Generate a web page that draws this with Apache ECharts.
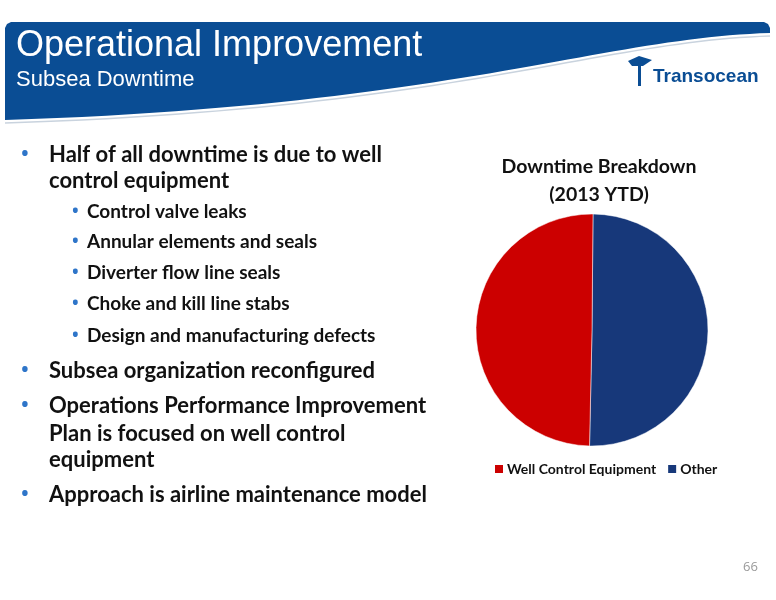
<!DOCTYPE html>
<html>
<head>
<meta charset="utf-8">
<script src="https://cdn.jsdelivr.net/npm/echarts@6/dist/echarts.min.js"></script>
<style>html,body{margin:0;padding:0;background:#fff}#chart{width:776px;height:600px}</style>
</head>
<body>
<div id="chart"></div>
<script>
var categories = ['Other', 'Well Control Equipment'];
var values = [50.2, 49.8];
var colors = ['#17387a', '#cc0000'];
var legendOrder = ['Well Control Equipment', 'Other'];

var bullets = [
  { text: 'Half of all downtime is due to well', level: 0, y: 158, dot: true },
  { text: 'control equipment', level: 0, y: 184 },
  { text: 'Control valve leaks', level: 1, y: 215, dot: true },
  { text: 'Annular elements and seals', level: 1, y: 245, dot: true },
  { text: 'Diverter flow line seals', level: 1, y: 276, dot: true },
  { text: 'Choke and kill line stabs', level: 1, y: 307, dot: true },
  { text: 'Design and manufacturing defects', level: 1, y: 339, dot: true },
  { text: 'Subsea organization reconfigured', level: 0, y: 374, dot: true },
  { text: 'Operations Performance Improvement', level: 0, y: 409, dot: true },
  { text: 'Plan is focused on well control', level: 0, y: 437 },
  { text: 'equipment', level: 0, y: 463 },
  { text: 'Approach is airline maintenance model', level: 0, y: 498, dot: true }
];

// header band bottom edge, sampled from a cubic curve
function curve(p0, p1, p2, p3, n) {
  var pts = [];
  for (var i = 0; i <= n; i++) {
    var t = i / n, u = 1 - t;
    pts.push([
      u*u*u*p0[0] + 3*u*u*t*p1[0] + 3*u*t*t*p2[0] + t*t*t*p3[0],
      u*u*u*p0[1] + 3*u*u*t*p1[1] + 3*u*t*t*p2[1] + t*t*t*p3[1]
    ]);
  }
  return pts;
}
var edge = curve([770, 33], [600, 38], [450, 106], [5, 120], 50);
var bandPts = [[5, 28], [7, 24], [11, 22], [764, 22], [768, 24], [770, 28]].concat(edge);
var linePts = curve([770, 36], [600, 41], [450, 109], [5, 123], 50);

var graphics = [
  { type: 'polygon', shape: { points: bandPts }, style: { fill: '#0a4d94' } },
  { type: 'polyline', shape: { points: linePts }, style: { stroke: '#c9d3de', lineWidth: 1.5, fill: null } },
  { type: 'text', left: 16, top: 28, style: { text: 'Operational Improvement', fill: '#fff', font: '36px "Liberation Sans", Arial, sans-serif' } },
  { type: 'text', left: 16, top: 69, style: { text: 'Subsea Downtime', fill: '#fff', font: '22px "Liberation Sans", Arial, sans-serif' } },
  { type: 'polygon', shape: { points: [[628, 61], [639, 56], [652, 60], [643, 66], [632, 66]] }, style: { fill: '#0a4d94' } },
  { type: 'rect', shape: { x: 638, y: 60, width: 3, height: 26 }, style: { fill: '#0a4d94' } },
  { type: 'text', left: 653, top: 67, style: { text: 'Transocean', fill: '#0a4d94', font: 'bold 19px "Liberation Sans Narrow", "Liberation Sans", sans-serif' } },
  { type: 'text', left: 743, top: 561, style: { text: '66', fill: '#9a9a9a', font: '13px "Open Sans", sans-serif' } }
];
bullets.forEach(function (b) {
  var x = b.level === 0 ? 49 : 87;
  var size = b.level === 0 ? 22 : 19;
  if (b.dot) {
    graphics.push({ type: 'text', left: b.level === 0 ? 20 : 71, top: b.y - size / 2 - 5,
      style: { text: '•', fill: '#2e75c9', font: (size + 4) + 'px "Open Sans", sans-serif' } });
  }
  graphics.push({ type: 'text', left: x, top: b.y - size / 2 - 3,
    style: { text: b.text, fill: '#111', font: 'bold ' + size + 'px Lato, "Open Sans", sans-serif' } });
});

var chart = echarts.init(document.getElementById('chart'));
chart.setOption({
  animation: false,
  title: { text: 'Downtime Breakdown\n(2013 YTD)', left: 594, top: 148, textAlign: 'center',
    textStyle: { fontSize: 19.5, fontWeight: 'bold', color: '#111', lineHeight: 28, fontFamily: 'Lato, "Open Sans", sans-serif' } },
  legend: { data: legendOrder, left: 488, top: 457, itemWidth: 10, itemHeight: 10, itemGap: 10, icon: 'rect',
    textStyle: { fontSize: 14, fontWeight: 'bold', color: '#111', fontFamily: 'Lato, "Open Sans", sans-serif', padding: [0, 0, 0, -2] } },
  graphic: graphics,
  series: [{
    type: 'pie', center: [592, 330], radius: 116, startAngle: 89.5, clockwise: true,
    label: { show: false }, labelLine: { show: false },
    itemStyle: { borderColor: '#fff', borderWidth: 0.5 },
    data: categories.map(function (c, i) { return { name: c, value: values[i], itemStyle: { color: colors[i] } }; })
  }]
});
</script>
</body>
</html>
